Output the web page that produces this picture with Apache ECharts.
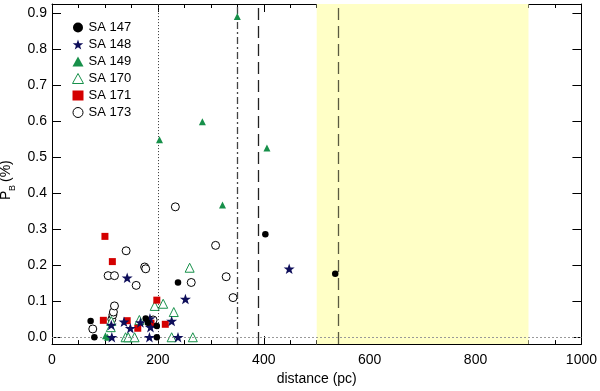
<!DOCTYPE html>
<html>
<head>
<meta charset="utf-8">
<script src="https://cdn.jsdelivr.net/npm/echarts@6/dist/echarts.min.js"></script>
<style>
html,body{margin:0;padding:0;background:#fff;}
#chart{width:600px;height:391px;}
</style>
</head>
<body>
<div id="chart"></div>
<script>
// ---- data (distance in pc, P_B in %) ----
var sa147 = [[73,0.045],[80,0.0],[177,0.052],[181,0.04],[198,0.031],[198,0.0],[238,0.152],[403,0.286],[535,0.176]];
var sa148 = [[142,0.165],[112,0.034],[113,0.0],[136,0.043],[148,0.025],[167,0.041],[184,0.0],[185,0.052],[186,0.028],[226,0.045],[238,0.0],[252,0.106],[448,0.19]];
var sa149 = [[101,0.004],[105,0.0],[203,0.548],[284,0.598],[322,0.367],[350,0.89],[406,0.525]];
var sa170 = [[111,0.028],[112,0.045],[139,0.0],[144,0.0],[156,0.0],[165,0.048],[194,0.087],[210,0.093],[226,0.0],[230,0.07],[260,0.193],[266,0.0]];
var sa171 = [[97,0.047],[100,0.28],[114,0.21],[142,0.046],[162,0.025],[187,0.039],[198,0.103],[214,0.036]];
var sa173 = [[77,0.023],[106,0.171],[113,0.05],[115,0.062],[116,0.07],[118,0.087],[118,0.171],[140,0.24],[159,0.144],[175,0.195],[177,0.19],[191,0.048],[233,0.362],[263,0.152],[309,0.255],[329,0.168],[342,0.11]];
var seriesNames = ['SA 147','SA 148','SA 149','SA 170','SA 171','SA 173'];
var yTickValues = [0,0.1,0.2,0.3,0.4,0.5,0.6,0.7,0.8,0.9];
var xTickLabels = [0,200,400,600,800,1000];
var verticalLines = [200,350,390,540];
var bandRange = [500,900];

var STAR = 'path://M0,-10 L2.35,-3.24 L9.51,-3.09 L3.8,1.24 L5.88,8.09 L0,4 L-5.88,8.09 L-3.8,1.24 L-9.51,-3.09 L-2.35,-3.24 Z';
var FONT = 'Liberation Sans, Arial, Helvetica, sans-serif';
var GREEN = '#17904a', NAVY = '#0e0e5a', RED = '#d40000';

var chart = echarts.init(document.getElementById('chart'), null, {renderer:'canvas'});

function xAxisDef(pos){
  return {
    type:'value', position:pos, min:0, max:1000, interval:200,
    axisLine:{show:true, onZero:false, lineStyle:{color:'#000', width:1}},
    axisTick:{show:true, inside:true, length:8, lineStyle:{color:'#000'}},
    minorTick:{show:true, splitNumber:4, length:4, lineStyle:{color:'#000'}},
    axisLabel:{show:pos==='bottom', fontSize:14, color:'#000', fontFamily:FONT, margin:9,
      customValues: xTickLabels, formatter:function(v){return String(v);}},
    splitLine:{show:false},
    name: pos==='bottom' ? 'distance (pc)' : '',
    nameLocation:'middle', nameGap:23,
    nameTextStyle:{fontSize:14, color:'#000', fontFamily:FONT}
  };
}
function yAxisDef(pos){
  return {
    type:'value', position:pos, min:-0.019, max:0.925,
    axisLine:{show:true, onZero:false, lineStyle:{color:'#000', width:1}},
    axisTick:{show:true, inside:true, length:9, customValues:yTickValues, lineStyle:{color:'#000'}},
    axisLabel:{show:pos==='left', fontSize:14, color:'#000', fontFamily:FONT, margin:5,
      customValues:yTickValues, formatter:function(v){return v.toFixed(1);}},
    splitLine:{show:false}
  };
}

function scatter(name, data, symbol, size, style, z){
  style.opacity = 1;
  return {
    name:name, type:'scatter', data:data, symbol:symbol, symbolSize:size,
    symbolKeepAspect:true, itemStyle:style, z:z||3, xAxisIndex:0, yAxisIndex:0,
    emphasis:{disabled:true}, silent:true, animation:false
  };
}

var option = {
  animation:false,
  textStyle:{fontFamily:FONT},
  grid:{left:52, right:16, top:4, bottom:42, containLabel:false},
  xAxis:[xAxisDef('bottom'), xAxisDef('top')],
  yAxis:[yAxisDef('left'), yAxisDef('right')],
  legend:{
    show:true, orient:'vertical', left:67, top:16, itemGap:4,
    itemWidth:11, itemHeight:10, symbolKeepAspect:true,
    textStyle:{fontSize:13, color:'#000', fontFamily:FONT},
    selectedMode:false,
    data:[
      {name:'SA 147', icon:'circle', itemStyle:{color:'#000', opacity:1}},
      {name:'SA 148', icon:STAR, itemStyle:{color:NAVY, opacity:1}},
      {name:'SA 149', icon:'triangle', itemStyle:{color:GREEN, opacity:1}},
      {name:'SA 170', icon:'triangle', itemStyle:{color:'#fff', borderColor:GREEN, borderWidth:1, opacity:1}},
      {name:'SA 171', icon:'rect', itemStyle:{color:RED, opacity:1}},
      {name:'SA 173', icon:'circle', itemStyle:{color:'#fff', borderColor:'#000', borderWidth:1, opacity:1}}
    ]
  },
  series:[
    {
      type:'line', data:[], xAxisIndex:0, yAxisIndex:0, z:1, silent:true,
      markArea:{silent:true, itemStyle:{color:'#ffffc6'}, data:[[{xAxis:bandRange[0]},{xAxis:bandRange[1]}]]},
      markLine:{silent:true, symbol:['none','none'], label:{show:false}, animation:false,
        data:[
          {xAxis:verticalLines[0], lineStyle:{color:'#333', width:1, type:[1,2]}},
          {xAxis:verticalLines[1], lineStyle:{color:'#444', width:1.3, type:[7,3,2,3]}},
          {xAxis:verticalLines[2], lineStyle:{color:'#222', width:1.3, type:[12,6]}},
          {xAxis:verticalLines[3], lineStyle:{color:'#5a5a40', width:1.3, type:[12,6]}},
          {yAxis:0, lineStyle:{color:'#999', width:1, type:[2,2]}}
        ]}
    },
    scatter('SA 173', sa173, 'circle', 8, {color:'#fff', borderColor:'#000', borderWidth:1}, 3),
    scatter('SA 170', sa170, 'triangle', 9, {color:'#fff', borderColor:GREEN, borderWidth:1}, 4),
    scatter('SA 171', sa171, 'rect', 7, {color:RED}, 5),
    scatter('SA 149', sa149, 'triangle', 7, {color:GREEN}, 6),
    scatter('SA 148', sa148, STAR, 11, {color:NAVY}, 7),
    scatter('SA 147', sa147, 'circle', 6.5, {color:'#000'}, 8)
  ],
  graphic:[
    {type:'group', x:6, y:177, rotation:Math.PI/2, silent:true, children:[
      {type:'text', x:-23, y:0, style:{text:'P', fontSize:14, fontFamily:FONT, fill:'#000', textVerticalAlign:'middle', textAlign:'left'}},
      {type:'text', x:-14, y:7, style:{text:'B', fontSize:9, fontFamily:FONT, fill:'#000', textVerticalAlign:'middle', textAlign:'left'}},
      {type:'text', x:-5, y:0, style:{text:'(%)', fontSize:14, fontFamily:FONT, fill:'#000', textVerticalAlign:'middle', textAlign:'left'}}
    ]}
  ]
};
chart.setOption(option);
</script>
</body>
</html>
